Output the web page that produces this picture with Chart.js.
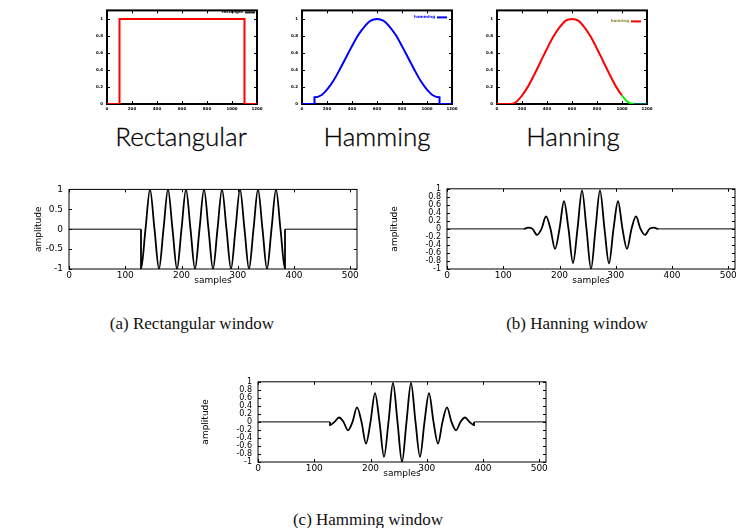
<!DOCTYPE html>
<html>
<head>
<meta charset="utf-8">
<script src="https://cdn.jsdelivr.net/npm/chart.js@4.4.1/dist/chart.umd.min.js"></script>
<style>
  html, body { margin: 0; padding: 0; background: #fff; }
  body { position: relative; width: 736px; height: 528px; overflow: hidden; }
  canvas { position: absolute; }
  .name { position: absolute; transform: translateX(-50%); white-space: nowrap;
          font-family: Lato, "Open Sans", sans-serif; font-weight: 300; font-size: 26px; color: #000; line-height: 1;
          -webkit-text-stroke: 0.3px #000; }
  .cap { position: absolute; transform: translateX(-50%); white-space: nowrap;
         font-family: "Liberation Serif", "Times New Roman", serif; font-size: 17px; color: #111; line-height: 1; }
</style>
</head>
<body>
<canvas id="winRect" width="180" height="110" style="left:87px;top:4px"></canvas>
<canvas id="winHamm" width="180" height="110" style="left:282px;top:4px"></canvas>
<canvas id="winHann" width="180" height="110" style="left:477px;top:4px"></canvas>
<div class="name" style="left:181px;top:123px">Rectangular</div>
<div class="name" style="left:377px;top:123px">Hamming</div>
<div class="name" style="left:573px;top:123px">Hanning</div>

<canvas id="sigRect" width="366" height="113" style="left:3px;top:178px"></canvas>
<canvas id="sigHann" width="366" height="113" style="left:381px;top:178px"></canvas>
<canvas id="sigHamm" width="366" height="113" style="left:192px;top:371px"></canvas>
<div class="cap" style="left:192px;top:315px">(a) Rectangular window</div>
<div class="cap" style="left:577px;top:315px">(b) Hanning window</div>
<div class="cap" style="left:368px;top:511px">(c) Hamming window</div>

<script>
// top row: window shapes over 0..1200
const winTicksX = [0, 200, 400, 600, 800, 1000, 1200];
const winTicksY = [0, 0.2, 0.4, 0.6, 0.8, 1];

const rectX = [0, 100, 100, 1100, 1100, 1200];
const rectY = [0, 0, 1, 1, 0, 0];

const hammX = [0, 100, 100, 150, 200, 250, 300, 350, 400, 450, 500, 550, 600, 650, 700, 750, 800, 850, 900, 950, 1000, 1050, 1100, 1100, 1200];
const hammY = [0, 0, 0.08, 0.10, 0.17, 0.27, 0.40, 0.54, 0.68, 0.81, 0.91, 0.98, 1.00, 0.98, 0.91, 0.81, 0.68, 0.54, 0.40, 0.27, 0.17, 0.10, 0.08, 0, 0];

const hannX = [0, 100, 150, 200, 250, 300, 350, 400, 450, 500, 550, 600, 650, 700, 750, 800, 850, 900, 950, 1000, 1050, 1100, 1200];
const hannY = [0, 0, 0.02, 0.10, 0.21, 0.35, 0.50, 0.65, 0.79, 0.90, 0.98, 1.00, 0.98, 0.90, 0.79, 0.65, 0.50, 0.35, 0.21, 0.10, 0.02, 0, 0];

// bottom row: windowed bursts, samples 0..512
const sigTicksX = [0, 100, 200, 300, 400, 500];
const sigTicksYa = [-1, -0.5, 0, 0.5, 1];
const sigTicksYb = [-1, -0.8, -0.6, -0.4, -0.2, 0, 0.2, 0.4, 0.6, 0.8, 1];

const burstX = [128, 136, 144, 152, 160, 168, 176, 184, 192, 200, 208, 216, 224, 232, 240, 248, 256,
                264, 272, 280, 288, 296, 304, 312, 320, 328, 336, 344, 352, 360, 368, 376, 384];
const rectBurst = [-1, 0, 1, 0, -1, 0, 1, 0, -1, 0, 1, 0, -1, 0, 1, 0, -1,
                   0, 1, 0, -1, 0, 1, 0, -1, 0, 1, 0, -1, 0, 1, 0, -1];
const hannBurst = [0, 0, 0.03, 0, -0.15, 0, 0.31, 0, -0.5, 0, 0.69, 0, -0.85, 0, 0.96, 0, -1,
                   0, 0.96, 0, -0.86, 0, 0.69, 0, -0.5, 0, 0.31, 0, -0.15, 0, 0.03, 0, 0];
const hammBurst = [-0.08, 0, 0.11, 0, -0.21, 0, 0.36, 0, -0.54, 0, 0.72, 0, -0.87, 0, 0.97, 0, -1,
                   0, 0.97, 0, -0.87, 0, 0.72, 0, -0.54, 0, 0.36, 0, -0.21, 0, 0.11, 0, -0.08];
const flatStart = [0, 128];
const flatEnd = [384, 512];

const pts = (xs, ys) => xs.map((x, i) => ({ x, y: ys[i] }));
const burst = ys => pts([...flatStart, ...burstX, ...flatEnd], [0, 0, ...ys, 0, 0]);

// box round the plot with small inward ticks on all four sides
const framePlugin = {
  id: 'frame',
  beforeDatasetsDraw(chart, args, opts) {
    const { ctx, chartArea: a, scales: { x, y } } = chart;
    ctx.save();
    ctx.strokeStyle = '#000';
    ctx.lineWidth = opts.tickWidth;
    ctx.beginPath();
    x.ticks.forEach(t => {
      const px = Math.round(x.getPixelForValue(t.value)) + 0.5;
      ctx.moveTo(px, a.bottom); ctx.lineTo(px, a.bottom - opts.tick);
      ctx.moveTo(px, a.top); ctx.lineTo(px, a.top + opts.tick);
    });
    y.ticks.forEach(t => {
      const py = Math.round(y.getPixelForValue(t.value)) + 0.5;
      ctx.moveTo(a.left, py); ctx.lineTo(a.left + opts.tick, py);
      ctx.moveTo(a.right, py); ctx.lineTo(a.right - opts.tick, py);
    });
    ctx.stroke();
    ctx.lineWidth = opts.width;
    ctx.strokeRect(a.left, a.top, a.right - a.left, a.bottom - a.top);
    ctx.restore();
  }
};

// gnuplot style key inside the top right corner
const keyPlugin = {
  id: 'key',
  afterDatasetsDraw(chart, args, k) {
    if (!k.text) return;
    const { ctx, chartArea: a } = chart;
    const yy = a.top + k.dy;
    ctx.save();
    ctx.font = 'bold 4px "DejaVu Sans"';
    ctx.fillStyle = k.textColor;
    ctx.textAlign = 'right';
    ctx.textBaseline = 'middle';
    ctx.fillText(k.text, a.right - k.dx - 2, yy);
    ctx.strokeStyle = k.lineColor;
    ctx.lineWidth = 2;
    ctx.beginPath();
    ctx.moveTo(a.right - k.dx, yy);
    ctx.lineTo(a.right - k.dx + 10, yy);
    ctx.stroke();
    ctx.restore();
  }
};

const setTicks = list => s => { s.ticks = list.map(v => ({ value: v })); };
const label = v => String(v);

function windowChart(id, data, color, segColor, key) {
  const tiny = { family: '"DejaVu Sans"', size: 4, weight: 'bold' };
  return new Chart(document.getElementById(id), {
    type: 'line',
    data: {
      datasets: [{
        data,
        borderColor: color,
        borderWidth: 2,
        pointRadius: 0,
        cubicInterpolationMode: 'monotone',
        segment: segColor ? { borderColor: segColor } : {}
      }]
    },
    options: {
      responsive: false,
      animation: false,
      events: [],
      layout: { padding: { top: 6, right: 10, left: 0, bottom: 0 } },
      plugins: {
        legend: { display: false },
        tooltip: { enabled: false },
        frame: { width: 2, tick: 3, tickWidth: 1 },
        key
      },
      scales: {
        x: {
          type: 'linear', min: 0, max: 1200,
          afterBuildTicks: setTicks(winTicksX),
          afterFit: s => { s.height = 10; },
          grid: { display: false, drawTicks: false },
          border: { display: false },
          ticks: { font: tiny, color: '#000', padding: 3, maxRotation: 0, autoSkip: false, callback: label }
        },
        y: {
          min: 0, max: 1.1,
          afterBuildTicks: setTicks(winTicksY),
          afterFit: s => { s.width = 20; },
          grid: { display: false, drawTicks: false },
          border: { display: false },
          ticks: { font: tiny, color: '#000', padding: 4, autoSkip: false, callback: label }
        }
      }
    },
    plugins: [framePlugin, keyPlugin]
  });
}

function signalChart(id, data, ticksY, titleOffset, tickSize) {
  const f = { family: '"DejaVu Sans"', size: 9 };
  const ft = { family: '"DejaVu Sans"', size: tickSize };
  return new Chart(document.getElementById(id), {
    type: 'line',
    data: {
      datasets: [{
        data,
        borderColor: '#000',
        borderWidth: 1.8,
        pointRadius: 0,
        cubicInterpolationMode: 'monotone',
        segment: {
          borderWidth: c => (c.p0.parsed.y === 0 && c.p1.parsed.y === 0) ? 1 : 1.8
        }
      }]
    },
    options: {
      responsive: false,
      animation: false,
      events: [],
      layout: { padding: { top: 6, right: 12, left: 0, bottom: 0 } },
      plugins: {
        legend: { display: false },
        tooltip: { enabled: false },
        frame: { width: 1, tick: 3, tickWidth: 1 }
      },
      scales: {
        x: {
          type: 'linear', min: 0, max: 512,
          afterBuildTicks: setTicks(sigTicksX),
          afterFit: s => { s.height = 22; },
          grid: { display: false, drawTicks: false },
          border: { display: false },
          title: { display: true, text: 'samples', font: f, color: '#000', padding: { top: 0, bottom: 4.6 } },
          ticks: { font: f, color: '#000', padding: 1, maxRotation: 0, autoSkip: false, callback: label }
        },
        y: {
          min: -1, max: 1,
          afterBuildTicks: setTicks(ticksY),
          afterFit: s => { s.width = 66; },
          grid: { display: false, drawTicks: false },
          border: { display: false },
          title: { display: true, text: 'amplitude', font: f, color: '#000', padding: { top: titleOffset, bottom: 0 } },
          ticks: { font: ft, color: '#000', padding: 6, autoSkip: false, callback: label }
        }
      }
    },
    plugins: [framePlugin]
  });
}

windowChart('winRect', pts(rectX, rectY), '#ff0000', null,
  { text: 'rectangle', textColor: '#000', lineColor: '#222', dx: 12, dy: 2 });
windowChart('winHamm', pts(hammX, hammY), '#0000ff', null,
  { text: 'hamming', textColor: '#0000ff', lineColor: '#0000ff', dx: 15, dy: 7 });
windowChart('winHann', pts(hannX, hannY), '#ff0000',
  c => c.p0.parsed.x >= 1100 ? '#006060' : (c.p0.parsed.x >= 1000 ? '#00ee00' : '#ff0000'),
  { text: 'hanning', textColor: '#8c8c30', lineColor: '#ff0000', dx: 16, dy: 11 });

signalChart('sigRect', burst(rectBurst), sigTicksYa, 30, 9);
signalChart('sigHann', burst(hannBurst), sigTicksYb, 8.7, 8);
signalChart('sigHamm', burst(hammBurst), sigTicksYb, 8.7, 8);
</script>
</body>
</html>
